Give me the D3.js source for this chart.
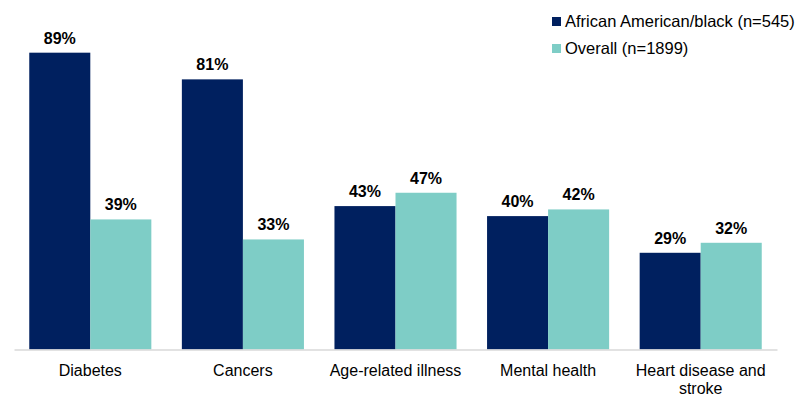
<!DOCTYPE html>
<html>
<head>
<meta charset="utf-8">
<script src="https://cdn.jsdelivr.net/npm/d3@7"></script>
<style>
  html, body { margin: 0; padding: 0; background: #fff; }
  svg { display: block; font-family: "Liberation Sans", Arial, sans-serif; }
</style>
</head>
<body>
<svg id="chart" width="799" height="394"></svg>
<script>
// Health conditions compared between the two respondent groups
const categories = ["Diabetes", "Cancers", "Age-related illness", "Mental health", "Heart disease and stroke"];
const seriesNames = ["African American/black (n=545)", "Overall (n=1899)"];
const africanAmericanValues = [89, 81, 43, 40, 29];
const overallValues = [39, 33, 47, 42, 32];
const seriesColors = ["#00205F", "#7ECDC6"];

const svg = d3.select("#chart");
const baseline = 349.5;
const plotTop = 16;

const x = d3.scaleBand()
  .domain(categories)
  .range([14, 777])
  .paddingInner(0.2)
  .paddingOuter(0.1);

const xInner = d3.scaleBand()
  .domain([0, 1])
  .range([0, x.bandwidth()]);

const y = d3.scaleLinear().domain([0, 100]).range([baseline, plotTop]);

const rows = categories.map((c, i) => ({
  category: c,
  values: [africanAmericanValues[i], overallValues[i]]
}));

const groups = svg.append("g")
  .selectAll("g")
  .data(rows)
  .join("g")
  .attr("transform", d => `translate(${x(d.category)},0)`);

groups.selectAll("rect")
  .data(d => d.values.map((v, s) => ({ v, s })))
  .join("rect")
  .attr("x", d => xInner(d.s))
  .attr("y", d => y(d.v))
  .attr("width", xInner.bandwidth())
  .attr("height", d => baseline - y(d.v))
  .attr("fill", d => seriesColors[d.s]);

groups.selectAll("text.value")
  .data(d => d.values.map((v, s) => ({ v, s })))
  .join("text")
  .attr("class", "value")
  .attr("x", d => xInner(d.s) + xInner.bandwidth() / 2)
  .attr("y", d => y(d.v) - 9)
  .attr("text-anchor", "middle")
  .attr("font-size", 16)
  .attr("font-weight", "bold")
  .attr("fill", "#000")
  .text(d => d.v + "%");

// Category axis
const xAxis = svg.append("g")
  .attr("transform", `translate(0,${baseline})`)
  .call(d3.axisBottom(x).tickSize(0).tickPadding(0).tickFormat(() => ""));
xAxis.select(".domain").attr("stroke", "#d9d9d9").attr("stroke-width", 1.5);

// Wrapped category labels
const labelWidth = 145;
xAxis.selectAll(".tick text").each(function(d) {
  const t = d3.select(this);
  t.text(null)
    .attr("y", 26)
    .attr("font-size", 16)
    .attr("fill", "#000")
    .attr("font-family", "Liberation Sans, Arial, sans-serif");
  const words = d.split(" ");
  let line = [];
  let tspan = t.append("tspan").attr("x", 0).attr("dy", 0);
  words.forEach(w => {
    line.push(w);
    tspan.text(line.join(" "));
    if (tspan.node().getComputedTextLength() > labelWidth && line.length > 1) {
      line.pop();
      tspan.text(line.join(" "));
      line = [w];
      tspan = t.append("tspan").attr("x", 0).attr("dy", 18).text(w);
    }
  });
});

// Legend
const legend = svg.append("g");
seriesNames.forEach((name, i) => {
  const gy = 26.5 + i * 27;
  legend.append("rect")
    .attr("x", 552)
    .attr("y", gy - 9.5)
    .attr("width", 9)
    .attr("height", 9)
    .attr("fill", seriesColors[i]);
  legend.append("text")
    .attr("x", 565)
    .attr("y", gy)
    .attr("font-size", 16.5)
    .attr("fill", "#000")
    .text(name);
});
</script>
</body>
</html>
